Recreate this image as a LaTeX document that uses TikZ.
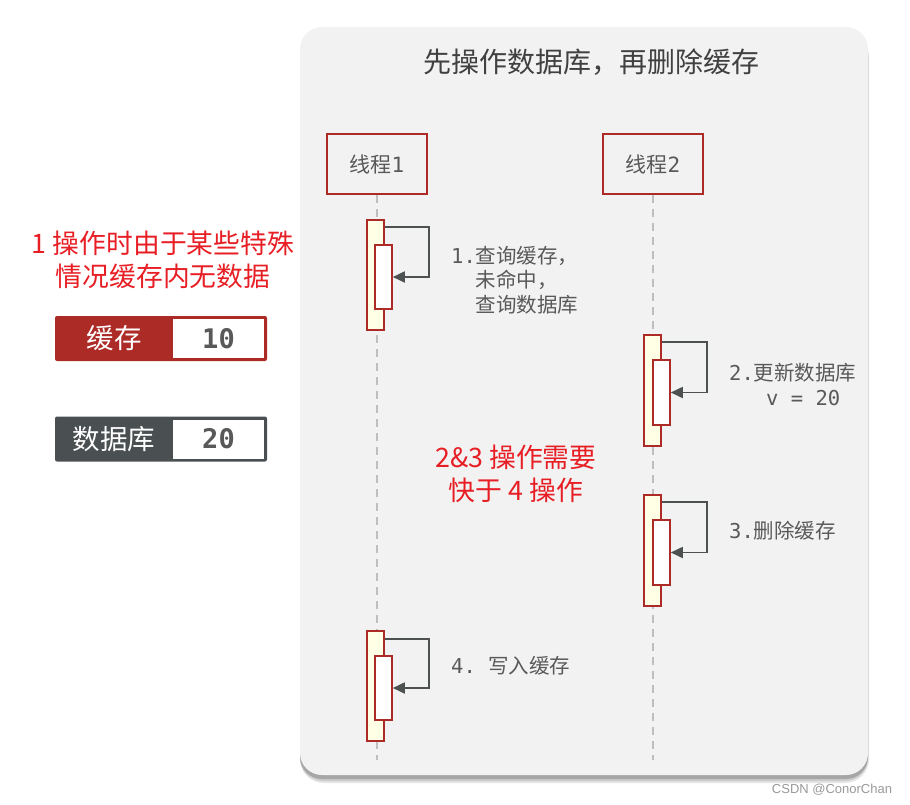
\documentclass[tikz,border=0pt]{standalone}
\usepackage{fontspec}
\setmainfont{Noto Sans CJK SC}
\setmonofont{DejaVu Sans Mono}
\newfontfamily\wmfont{Liberation Sans}
\usetikzlibrary{arrows.meta,calc}
\definecolor{bred}{HTML}{AD2B27}
\definecolor{txtgray}{HTML}{595959}
\definecolor{arrgray}{HTML}{4D5152}
\definecolor{dbgray}{HTML}{4A5051}
\definecolor{panelgray}{HTML}{F2F2F2}
\definecolor{actyellow}{HTML}{FFFFE6}
\definecolor{hired}{HTML}{E81E25}
\newcommand{\mono}{\ttfamily}
\tikzset{
  thread/.style={draw=bred, line width=1.6pt, minimum width=100pt, minimum height=60pt, inner sep=0pt, text=txtgray, font=\fontsize{21}{25}\selectfont},
  life/.style={draw=black!25, line width=1.6pt, dash pattern=on 8pt off 6pt},
  actout/.style={draw=bred, line width=1.6pt, fill=actyellow, minimum width=17pt, inner sep=0pt},
  actin/.style={draw=bred, line width=1.6pt, fill=white, minimum width=17pt, inner sep=0pt},
  msg/.style={draw=arrgray, line width=1.8pt, -{Triangle[length=12pt,width=11pt]}},
  steptext/.style={anchor=west, inner sep=0pt, align=left, text=txtgray, font=\fontsize{20.5}{24.5}\selectfont},
  redtext/.style={inner sep=0pt, align=center, text=hired, font=\fontsize{26.8}{33}\selectfont},
  kvbox/.style={minimum width=212pt, minimum height=45pt, inner sep=0pt, rounded corners=2pt},
  kvval/.style={fill=white, minimum width=91pt, minimum height=39pt, inner sep=0pt, text=txtgray, font=\mono\bfseries\fontsize{27}{30}\selectfont},
  kvlabel/.style={inner sep=0pt, text=white, font=\fontsize{27.5}{30}\selectfont}
}
\begin{document}
\begin{tikzpicture}[x=1pt,y=-1pt]
\useasboundingbox (0,0) rectangle (910,805);
% panel shadow
\fill[black!10, rounded corners=24pt] (300,34) rectangle (869,783);
\fill[black!20, rounded corners=23pt] (300,32) rectangle (868,781);
\fill[black!35, rounded corners=22pt] (300,30) rectangle (868,779);
% panel
\fill[panelgray, rounded corners=22pt] (300,27) rectangle (868,775);
\node[inner sep=0pt, text=black!75, font=\fontsize{28}{32}\selectfont] (title) at (591,62) {先操作数据库，再删除缓存};

% threads
\node[thread] (t1) at (377,164) {线程{\mono 1}};
\node[thread] (t2) at (653,164) {线程{\mono 2}};
\coordinate (e1) at (377,760);
\coordinate (e2) at (653,760);
\draw[life] (t1.south) -- (e1);
\draw[life] (t2.south) -- (e2);

% activation 1
\node[actout, minimum height=110pt] (a1) at (375.5,275) {};
\node[actin, minimum height=64pt] (i1) at (383.5,277) {};
\draw[msg] ($(a1.north east)+(0,8)$) -- ++(44,0) |- (i1.east);
\node[steptext] (s1) at (451,280) {{\mono 1.}查询缓存，\\{\mono\phantom{1.}}未命中，\\{\mono\phantom{1.}}查询数据库};

% activation 2
\node[actout, minimum height=111pt] (a2) at (652.5,390.5) {};
\node[actin, minimum height=65pt] (i2) at (661.5,392.5) {};
\draw[msg] ($(a2.north east)+(0,8)$) -- ++(45,0) |- (i2.east);
\node[steptext] (s2) at (729,384.5) {{\mono 2.}更新数据库\\{\mono\phantom{2.x}v = 20}};

% activation 3
\node[actout, minimum height=111pt] (a3) at (652.5,550.5) {};
\node[actin, minimum height=65pt] (i3) at (661.5,552.5) {};
\draw[msg] ($(a3.north east)+(0,8)$) -- ++(45,0) |- (i3.east);
\node[steptext] (s3) at (729,531) {{\mono 3.}删除缓存};

% activation 4
\node[actout, minimum height=110pt] (a4) at (375.5,686) {};
\node[actin, minimum height=64pt] (i4) at (383.5,688) {};
\draw[msg] ($(a4.north east)+(0,9)$) -- ++(44,0) |- (i4.east);
\node[steptext] (s4) at (451,666) {{\mono 4. }写入缓存};

% red notes
\node[redtext] (n1) at (163,259.5) {1 操作时由于某些特殊\\情况缓存内无数据};
\node[redtext] (n2) at (516,473.5) {2\&3 操作需要\\快于 4 操作};

% key-value boxes
\node[kvbox, fill=bred] (cache) at (161,338.5) {};
\node[kvval] (cv) at (218.5,338.5) {10};
\node[kvlabel] (cl) at (114,338) {缓存};
\node[kvbox, fill=dbgray] (db) at (161,439) {};
\node[kvval] (dv) at (218.5,439) {20};
\node[kvlabel] (dl) at (114,439) {数据库};

% watermark
\node[inner sep=0pt, text=black!40, font=\wmfont\fontsize{13}{15}\selectfont] (wm) at (832,790) {CSDN @ConorChan};
\end{tikzpicture}
\end{document}
